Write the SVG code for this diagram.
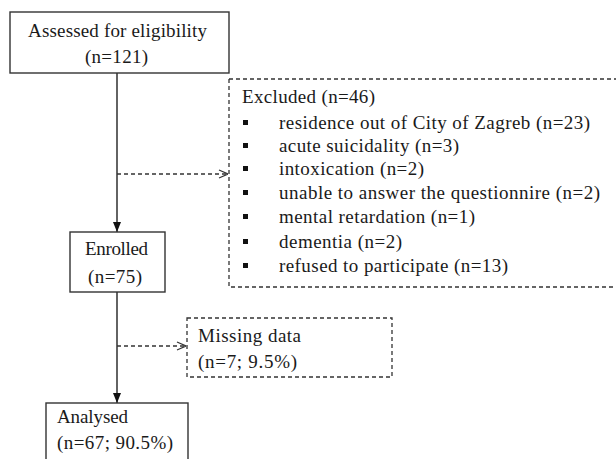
<svg xmlns="http://www.w3.org/2000/svg" width="616" height="459" viewBox="0 0 616 459">
<defs>
<style>
text{font-family:"Liberation Serif","Times New Roman",serif;font-size:19px;fill:#1a1a1a}
.box{fill:#fff;stroke:#333;stroke-width:1.4}
.dbox{fill:#fff;stroke:#333;stroke-width:1.3;stroke-dasharray:4 3}
.line{stroke:#222;stroke-width:1.4;fill:none}
.dline{stroke:#333;stroke-width:1.3;fill:none;stroke-dasharray:4 3}
.bul{fill:#111}
</style>
<marker id="solid" viewBox="0 0 10 10" refX="10" refY="5" markerWidth="10" markerHeight="10" markerUnits="userSpaceOnUse" orient="auto">
<path d="M0,1 L10,5 L0,9 Z" fill="#111"/>
</marker>
<marker id="open" viewBox="0 0 10 10" refX="10" refY="5" markerWidth="10" markerHeight="10" markerUnits="userSpaceOnUse" orient="auto">
<path d="M1,1 L10,5 L1,9" fill="none" stroke="#333" stroke-width="1.2"/>
</marker>
</defs>
<rect width="616" height="459" fill="#fff"/>
<g id="connectors">
<line class="line" x1="117" y1="73" x2="117" y2="232" marker-end="url(#solid)"/>
<line class="dline" x1="117" y1="174" x2="228" y2="174" marker-end="url(#open)"/>
<line class="line" x1="117" y1="292" x2="117" y2="403" marker-end="url(#solid)"/>
<line class="dline" x1="117" y1="346" x2="186" y2="346" marker-end="url(#open)"/>
</g>
<g id="assessed">
<rect class="box" x="10" y="12" width="219" height="61"/>
<text x="28" y="37" textLength="179" lengthAdjust="spacing">Assessed for eligibility</text>
<text x="85" y="63" textLength="63" lengthAdjust="spacing">(n=121)</text>
</g>
<g id="excluded">
<path class="dline" d="M229,79 L229,287 L620,287 M229,79 L620,79"/>
<text x="242" y="103" textLength="133" lengthAdjust="spacing">Excluded (n=46)</text>
<rect class="bul" x="243" y="120" width="5" height="5"/>
<text x="279" y="129" textLength="311" lengthAdjust="spacing">residence out of City of Zagreb (n=23)</text>
<rect class="bul" x="243" y="143" width="5" height="5"/>
<text x="279" y="152" textLength="180" lengthAdjust="spacing">acute suicidality (n=3)</text>
<rect class="bul" x="243" y="166" width="5" height="5"/>
<text x="279" y="175" textLength="145" lengthAdjust="spacing">intoxication (n=2)</text>
<rect class="bul" x="243" y="190" width="5" height="5"/>
<text x="279" y="199" textLength="321" lengthAdjust="spacing">unable to answer the questionnire (n=2)</text>
<rect class="bul" x="243" y="214" width="5" height="5"/>
<text x="279" y="223" textLength="196" lengthAdjust="spacing">mental retardation (n=1)</text>
<rect class="bul" x="243" y="239" width="5" height="5"/>
<text x="279" y="248" textLength="123" lengthAdjust="spacing">dementia (n=2)</text>
<rect class="bul" x="243" y="263" width="5" height="5"/>
<text x="279" y="272" textLength="229" lengthAdjust="spacing">refused to participate (n=13)</text>
</g>
<g id="enrolled">
<rect class="box" x="70" y="232" width="95" height="60"/>
<text x="85" y="255" textLength="63" lengthAdjust="spacing">Enrolled</text>
<text x="88" y="283" textLength="54" lengthAdjust="spacing">(n=75)</text>
</g>
<g id="missing">
<rect class="dbox" x="187" y="318" width="205" height="59"/>
<text x="198" y="342" textLength="103" lengthAdjust="spacing">Missing data</text>
<text x="198" y="368" textLength="99" lengthAdjust="spacing">(n=7; 9.5%)</text>
</g>
<g id="analysed">
<rect class="box" x="46" y="403" width="142" height="70"/>
<text x="57" y="423" textLength="71" lengthAdjust="spacing">Analysed</text>
<text x="57" y="449" textLength="116" lengthAdjust="spacing">(n=67; 90.5%)</text>
</g>
</svg>
